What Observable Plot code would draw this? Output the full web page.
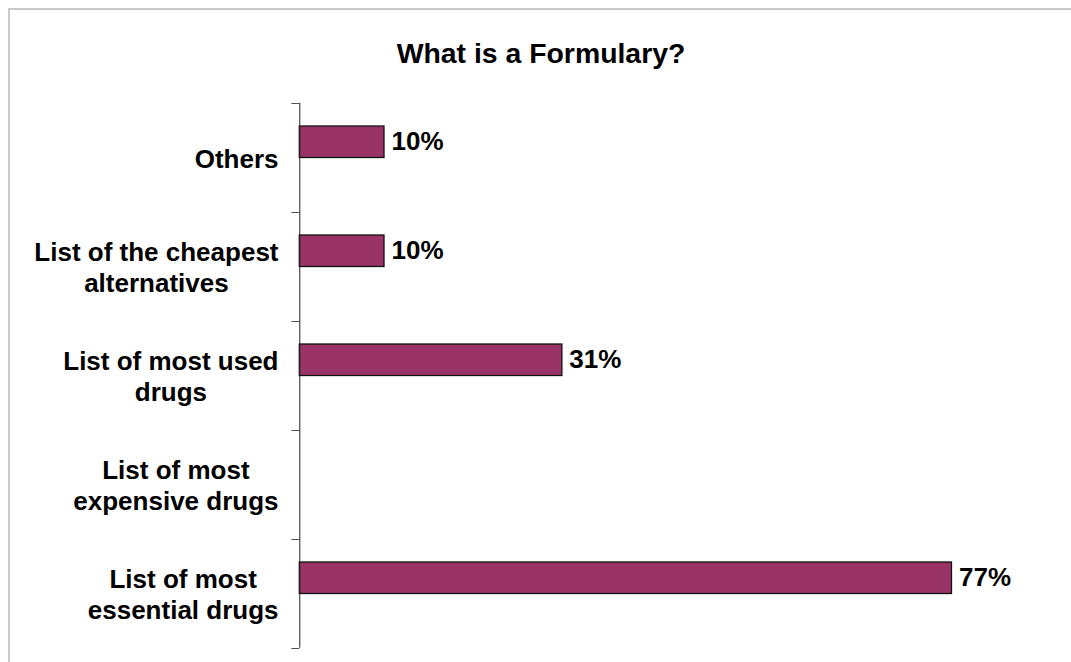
<!DOCTYPE html>
<html>
<head>
<meta charset="utf-8">
<script src="https://cdn.jsdelivr.net/npm/d3@7"></script>
<script src="https://cdn.jsdelivr.net/npm/@observablehq/plot@0.6"></script>
<style>
  html, body { margin: 0; padding: 0; background: #fff; overflow: hidden; }
  #wrap { position: relative; width: 1071px; height: 662px; overflow: hidden; font-family: "Liberation Sans", Arial, sans-serif; }
  #frame { position: absolute; left: 8px; top: 8px; width: 1100px; height: 700px; border: 2px solid #cacaca; box-sizing: border-box; pointer-events: none; }
  #title { position: absolute; left: 541px; top: 39.4px; transform: translateX(-50%); font-size: 28.4px; line-height: 28px; font-weight: bold; color: #000; white-space: nowrap; }
  #chart { position: absolute; left: 0; top: 0; }
</style>
</head>
<body>
<div id="wrap">
  <div id="chart"></div>
  <div id="frame"></div>
  <div id="title">What is a Formulary?</div>
</div>
<script>
const categories = [
  "Others",
  "List of the cheapest\nalternatives",
  "List of most used\ndrugs",
  "List of most\nexpensive drugs",
  "List of most\nessential drugs"
];
const values = [10, 10, 31, 0, 77];
const valueLabels = ["10%", "10%", "31%", "0%", "77%"];

const data = categories.map((c, i) => ({category: c, value: values[i], label: valueLabels[i]}));
const shown = data.filter(d => d.value > 0);

const FONT = "'Liberation Sans', Arial, sans-serif";
const FS = 26;
const ctx = document.createElement("canvas").getContext("2d");
ctx.font = `bold ${FS}px ${FONT}`;
const blockWidth = c => Math.max(...c.split("\n").map(l => ctx.measureText(l).width));

const step = (647.7 - 102.7) / categories.length;

const labelMarks = categories.map(c => Plot.text([c], {
  y: d => d,
  text: d => d,
  frameAnchor: "left",
  textAnchor: "middle",
  lineAnchor: "middle",
  lineHeight: 1.18,
  dx: -(21.3 + blockWidth(c) / 2),
  fontSize: FS,
  fontWeight: "bold",
  fill: "#000"
}));

const chart = Plot.plot({
  width: 1071,
  height: 662,
  marginLeft: 299.3,
  marginRight: 9.4,
  marginTop: 102.7,
  marginBottom: 14.3,
  style: {fontFamily: FONT, background: "transparent", overflow: "visible"},
  x: {domain: [0, 90], axis: null},
  y: {domain: categories, padding: 0, axis: null, label: null},
  marks: [
    Plot.barX(shown, {
      x: "value", y: "category",
      fill: "#993366", stroke: "#111", strokeWidth: 1.3,
      insetTop: 23, insetBottom: step / 2
    }),
    Plot.axisY({ticks: categories, tickSize: 8, tickFormat: () => "", label: null, dy: -step / 2, stroke: "#555"}),
    Plot.axisY({ticks: [categories[categories.length - 1]], tickSize: 8, tickFormat: () => "", label: null, dy: step / 2, stroke: "#555"}),
    Plot.ruleX([0], {stroke: "#222", strokeWidth: 1}),
    Plot.text(shown, {
      x: "value", y: "category", text: "label",
      textAnchor: "start", lineAnchor: "middle",
      dx: 7, dy: -16,
      fontSize: FS, fontWeight: "bold", fill: "#000"
    }),
    ...labelMarks
  ]
});
document.getElementById("chart").appendChild(chart);
</script>
</body>
</html>
